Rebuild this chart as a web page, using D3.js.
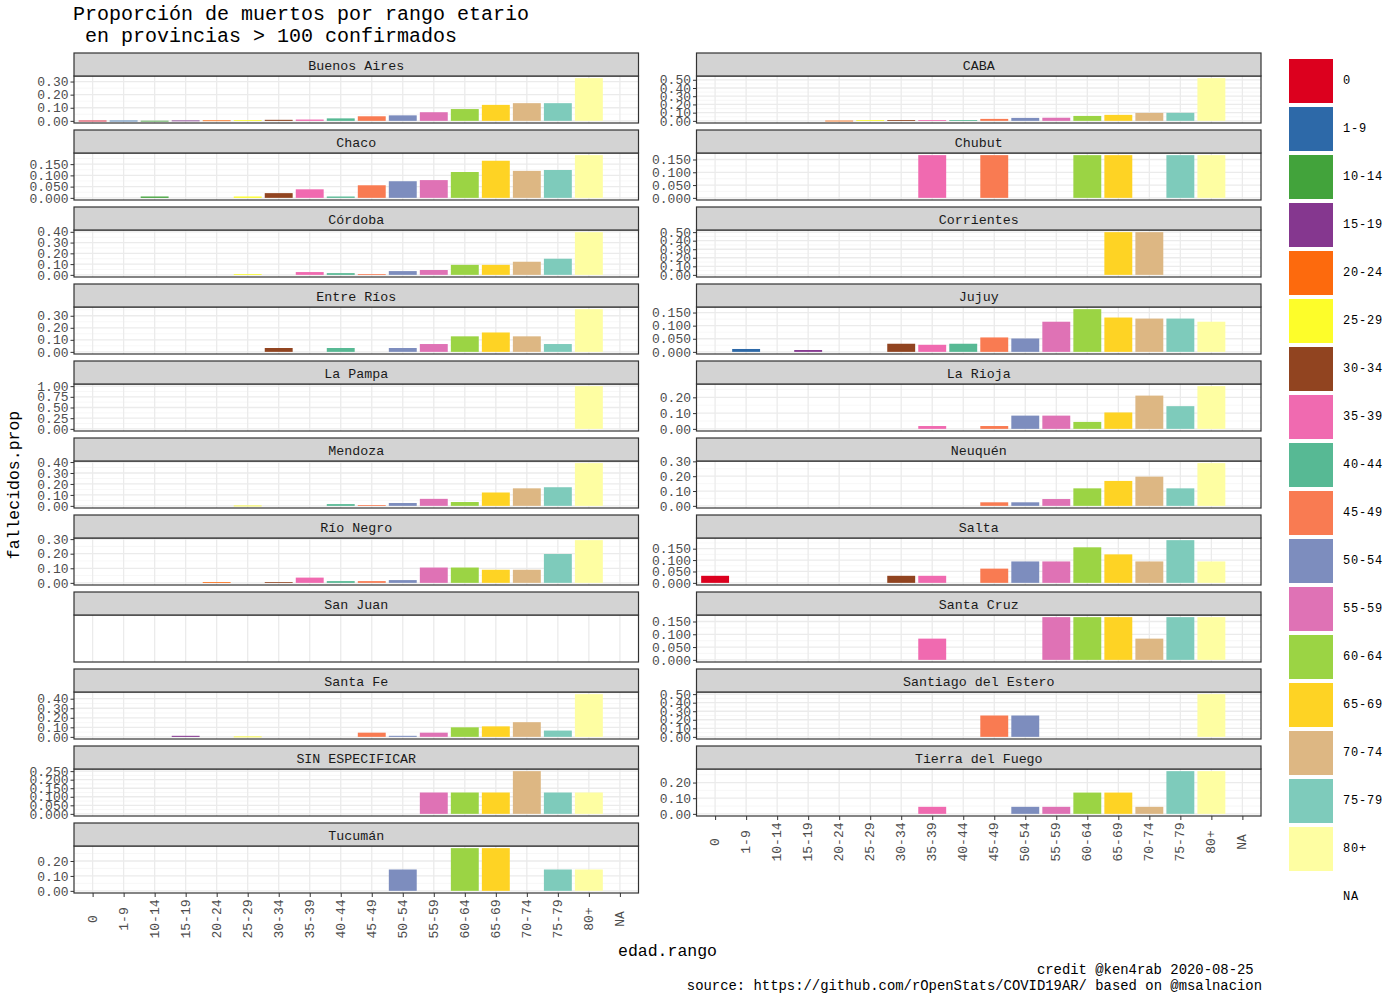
<!DOCTYPE html>
<html>
<head>
<meta charset="utf-8">
<script src="https://cdn.jsdelivr.net/npm/d3@7"></script>
<style>
  body { margin: 0; background: #fff; }
  svg { display: block; }
  text { font-family: "Liberation Mono", "DejaVu Sans Mono", monospace; }
</style>
</head>
<body>
<svg id="chart" width="1400" height="1000"></svg>
<script>
// ---------------- DATA ----------------
const ageGroups = ["0","1-9","10-14","15-19","20-24","25-29","30-34","35-39","40-44","45-49","50-54","55-59","60-64","65-69","70-74","75-79","80+","NA"];
const ageColors = ["#DC001E","#2D69A8","#42A33B","#85378F","#FD6A0D","#FDFD2A","#914420","#F06AB0","#57B994","#F97B52","#7D8DBE","#DF72B5","#9BD444","#FED324","#DDB783","#7ECBBB","#FEFEA2"];

const provinces = ["Buenos Aires","CABA","Chaco","Chubut","Córdoba","Corrientes","Entre Ríos","Jujuy","La Pampa","La Rioja","Mendoza","Neuquén","Río Negro","Salta","San Juan","Santa Cruz","Santa Fe","Santiago del Estero","SIN ESPECIFICAR","Tierra del Fuego","Tucumán"];

//                    0     1-9   10-14 15-19 20-24 25-29 30-34 35-39 40-44 45-49 50-54 55-59 60-64 65-69 70-74 75-79 80+   NA
const buenosAires  = [0.002,0.002,0.001,0.003,0.004,0.005,0.008,0.010,0.019,0.035,0.042,0.066,0.090,0.122,0.135,0.135,0.326,null];
const caba         = [null, null, null, null, 0.003,0.008,0.010,0.010,0.010,0.024,0.036,0.038,0.060,0.073,0.097,0.098,0.520,null];
const chaco        = [null, null, 0.006,null, null, 0.006,0.021,0.038,0.006,0.056,0.074,0.079,0.115,0.165,0.120,0.124,0.190,null];
const chubut       = [null, null, null, null, null, null, null, 0.167,null, 0.167,null, null, 0.167,0.167,null, 0.167,0.167,null];
const cordoba      = [null, null, null, null, null, 0.006,null, 0.026,0.016,0.006,0.035,0.045,0.093,0.093,0.122,0.150,0.397,null];
const corrientes   = [null, null, null, null, null, null, null, null, null, null, null, null, null, 0.500,0.500,null, null, null];
const entreRios    = [null, null, null, null, null, null, 0.032,null, 0.032,null, 0.032,0.065,0.129,0.161,0.129,0.065,0.355,null];
const jujuy        = [null, 0.011,null, 0.007,null, null, 0.031,0.027,0.031,0.055,0.051,0.115,0.163,0.131,0.127,0.127,0.115,null];
const laPampa      = [null, null, null, null, null, null, null, null, null, null, null, null, null, null, null, null, 1.000,null];
const laRioja      = [null, null, null, null, null, null, null, 0.018,null, 0.018,0.084,0.084,0.044,0.104,0.211,0.144,0.271,null];
const mendoza      = [null, null, null, null, null, 0.003,null, null, 0.016,0.006,0.026,0.064,0.035,0.122,0.160,0.170,0.390,null];
const neuquen      = [null, null, null, null, null, null, null, null, null, 0.024,0.024,0.046,0.118,0.168,0.197,0.118,0.288,null];
const rioNegro     = [null, null, null, null, 0.005,null, 0.005,0.036,0.012,0.012,0.019,0.105,0.105,0.090,0.090,0.198,0.293,null];
const salta        = [0.031,null, null, null, null, null, 0.031,0.031,null, 0.0625,0.094,0.094,0.156,0.125,0.094,0.1875,0.094,null];
const sanJuan      = [null, null, null, null, null, null, null, null, null, null, null, null, null, null, null, null, null, null];
const santaCruz    = [null, null, null, null, null, null, null, 0.083,null, null, null, 0.167,0.167,0.167,0.083,0.167,0.167,null];
const santaFe      = [null, null, null, 0.011,null, 0.004,null, null, null, 0.044,0.011,0.044,0.100,0.110,0.154,0.066,0.448,null];
const santiago     = [null, null, null, null, null, null, null, null, null, 0.250,0.250,null, null, null, null, null, 0.500,null];
const sinEspecif   = [null, null, null, null, null, null, null, null, null, null, null, 0.125,0.125,0.125,0.250,0.125,0.125,null];
const tierraFuego  = [null, null, null, null, null, null, null, 0.045,null, null, 0.045,0.045,0.136,0.136,0.045,0.273,0.273,null];
const tucuman      = [null, null, null, null, null, null, null, null, null, null, 0.143,null, 0.286,0.286,null, 0.143,0.143,null];

const panelValues = [buenosAires,caba,chaco,chubut,cordoba,corrientes,entreRios,jujuy,laPampa,laRioja,mendoza,neuquen,rioNegro,salta,sanJuan,santaCruz,santaFe,santiago,sinEspecif,tierraFuego,tucuman];

const yTickLabels = [
  ["0.00","0.10","0.20","0.30"],
  ["0.00","0.10","0.20","0.30","0.40","0.50"],
  ["0.000","0.050","0.100","0.150"],
  ["0.000","0.050","0.100","0.150"],
  ["0.00","0.10","0.20","0.30","0.40"],
  ["0.00","0.10","0.20","0.30","0.40","0.50"],
  ["0.00","0.10","0.20","0.30"],
  ["0.000","0.050","0.100","0.150"],
  ["0.00","0.25","0.50","0.75","1.00"],
  ["0.00","0.10","0.20"],
  ["0.00","0.10","0.20","0.30","0.40"],
  ["0.00","0.10","0.20","0.30"],
  ["0.00","0.10","0.20","0.30"],
  ["0.000","0.050","0.100","0.150"],
  [],
  ["0.000","0.050","0.100","0.150"],
  ["0.00","0.10","0.20","0.30","0.40"],
  ["0.00","0.10","0.20","0.30","0.40","0.50"],
  ["0.000","0.050","0.100","0.150","0.200","0.250"],
  ["0.00","0.10","0.20"],
  ["0.00","0.10","0.20"]
];

const titleLines = ["Proporción de muertos por rango etario", " en provincias > 100 confirmados"];
const xTitle = "edad.rango";
const yTitle = "fallecidos.prop";
const captionLines = ["credit @ken4rab 2020-08-25 ", "source: https://github.com/rOpenStats/COVID19AR/ based on @msalnacion"];

// ---------------- LAYOUT ----------------
const svg = d3.select("#chart");
const colLeft = [74, 696.5];
const panelW = 564.5;
const top0 = 53, rowPitch = 77, stripH = 23, panelH = 47;
const gridMajor = "#EBEBEB", gridMinor = "#F4F4F4";
const border = "#333333";

const color = d3.scaleOrdinal().domain(ageGroups.slice(0, 17)).range(ageColors);

// title
svg.append("g").selectAll("text").data(titleLines).join("text")
  .attr("x", 73).attr("y", (d, i) => 20 + i * 22)
  .attr("font-size", 20).attr("fill", "#000")
  .attr("xml:space", "preserve").style("white-space", "pre")
  .text(d => d);

const nRowsByCol = [Math.ceil(provinces.length / 2), Math.floor(provinces.length / 2)];

provinces.forEach((name, i) => {
  const col = i % 2, row = Math.floor(i / 2);
  const x0 = colLeft[col];
  const sTop = top0 + row * rowPitch;
  const pTop = sTop + stripH;
  const pBot = pTop + panelH;
  const isBottom = row === nRowsByCol[col] - 1;
  const vals = panelValues[i];
  const ticks = yTickLabels[i];
  const g = svg.append("g");

  const x = d3.scalePoint().domain(ageGroups).range([x0, x0 + panelW]).padding(0.6);
  const step = x.step();

  g.append("rect").attr("x", x0).attr("y", pTop).attr("width", panelW).attr("height", panelH).attr("fill", "#fff");

  const defined = vals.filter(v => v != null);
  let y = null;
  if (defined.length) {
    const mx = d3.max(defined);
    y = d3.scaleLinear().domain([-0.05 * mx, 1.05 * mx]).range([pBot, pTop]);
    const tv = ticks.map(Number);
    const tstep = tv[1] - tv[0];
    const minors = [];
    for (let k = -1; k < tv.length; k++) {
      const m = tv[0] + (k + 0.5) * tstep;
      if (m >= y.domain()[0] && m <= y.domain()[1]) minors.push(m);
    }
    g.append("g").selectAll("line").data(minors).join("line")
      .attr("x1", x0).attr("x2", x0 + panelW)
      .attr("y1", d => y(d)).attr("y2", d => y(d))
      .attr("stroke", gridMinor).attr("stroke-width", 0.7);
    g.append("g").selectAll("line").data(tv).join("line")
      .attr("x1", x0).attr("x2", x0 + panelW)
      .attr("y1", d => y(d)).attr("y2", d => y(d))
      .attr("stroke", gridMajor).attr("stroke-width", 1.3);
  }
  g.append("g").selectAll("line").data(ageGroups).join("line")
    .attr("x1", d => x(d)).attr("x2", d => x(d))
    .attr("y1", pTop).attr("y2", pBot)
    .attr("stroke", gridMajor).attr("stroke-width", 1.3);

  if (y) {
    const bars = ageGroups.map((a, k) => ({a, v: vals[k]})).filter(d => d.v != null && d.a !== "NA");
    g.append("g").selectAll("rect").data(bars).join("rect")
      .attr("x", d => x(d.a) - step * 0.45)
      .attr("width", step * 0.9)
      .attr("y", d => y(d.v))
      .attr("height", d => Math.max(0.8, y(0) - y(d.v)))
      .attr("fill", d => color(d.a));

    const ax = d3.axisLeft(y).tickValues(ticks.map(Number)).tickSize(3.5).tickPadding(2)
      .tickFormat((d, k) => ticks[k]);
    const ag = g.append("g").attr("transform", `translate(${x0},0)`).call(ax);
    ag.select(".domain").remove();
    ag.selectAll(".tick line").attr("stroke", border).attr("stroke-width", 1);
    ag.selectAll(".tick text").attr("font-size", 13).attr("fill", "#4D4D4D")
      .attr("font-family", "'Liberation Mono', monospace");
  }

  g.append("rect").attr("x", x0).attr("y", pTop).attr("width", panelW).attr("height", panelH)
    .attr("fill", "none").attr("stroke", border).attr("stroke-width", 1.2);

  g.append("rect").attr("x", x0).attr("y", sTop).attr("width", panelW).attr("height", stripH)
    .attr("fill", "#D3D3D3").attr("stroke", border).attr("stroke-width", 1.2);
  g.append("text").attr("x", x0 + panelW / 2).attr("y", sTop + stripH / 2 + 1.5)
    .attr("text-anchor", "middle").attr("dominant-baseline", "central")
    .attr("font-size", 13.3).attr("fill", "#1A1A1A").text(name);

  if (isBottom) {
    const xa = d3.axisBottom(x).tickSize(4).tickPadding(0);
    const xg = g.append("g").attr("transform", `translate(0,${pBot})`).call(xa);
    xg.select(".domain").remove();
    xg.selectAll(".tick line").attr("stroke", border).attr("stroke-width", 1);
    xg.selectAll(".tick text")
      .attr("font-size", 13).attr("fill", "#4D4D4D")
      .attr("font-family", "'Liberation Mono', monospace")
      .attr("text-anchor", "middle").attr("dominant-baseline", "central")
      .attr("y", 0).attr("dy", null)
      .attr("transform", "translate(0,26) rotate(-90)");
  }
});

// axis titles
svg.append("text").attr("x", 667.5).attr("y", 956).attr("text-anchor", "middle")
  .attr("font-size", 16.5).attr("fill", "#000").text(xTitle);
svg.append("text").attr("transform", "translate(19,485) rotate(-90)").attr("text-anchor", "middle")
  .attr("font-size", 16.5).attr("fill", "#000").text(yTitle);

// legend
const leg = svg.append("g");
ageGroups.forEach((a, k) => {
  const ky = 59 + k * 48;
  if (k < 17) {
    leg.append("rect").attr("x", 1289).attr("y", ky).attr("width", 44).attr("height", 44).attr("fill", color(a));
  }
  leg.append("text").attr("x", 1343).attr("y", ky + 22).attr("dominant-baseline", "central")
    .attr("font-size", 12).attr("letter-spacing", 0.8).attr("fill", "#000").text(a);
});

// caption
svg.append("g").selectAll("text").data(captionLines).join("text")
  .attr("x", 1262).attr("y", (d, i) => 974 + i * 16).attr("text-anchor", "end")
  .attr("font-size", 13.9).attr("fill", "#000")
  .attr("xml:space", "preserve").style("white-space", "pre")
  .text(d => d);
</script>
</body>
</html>
